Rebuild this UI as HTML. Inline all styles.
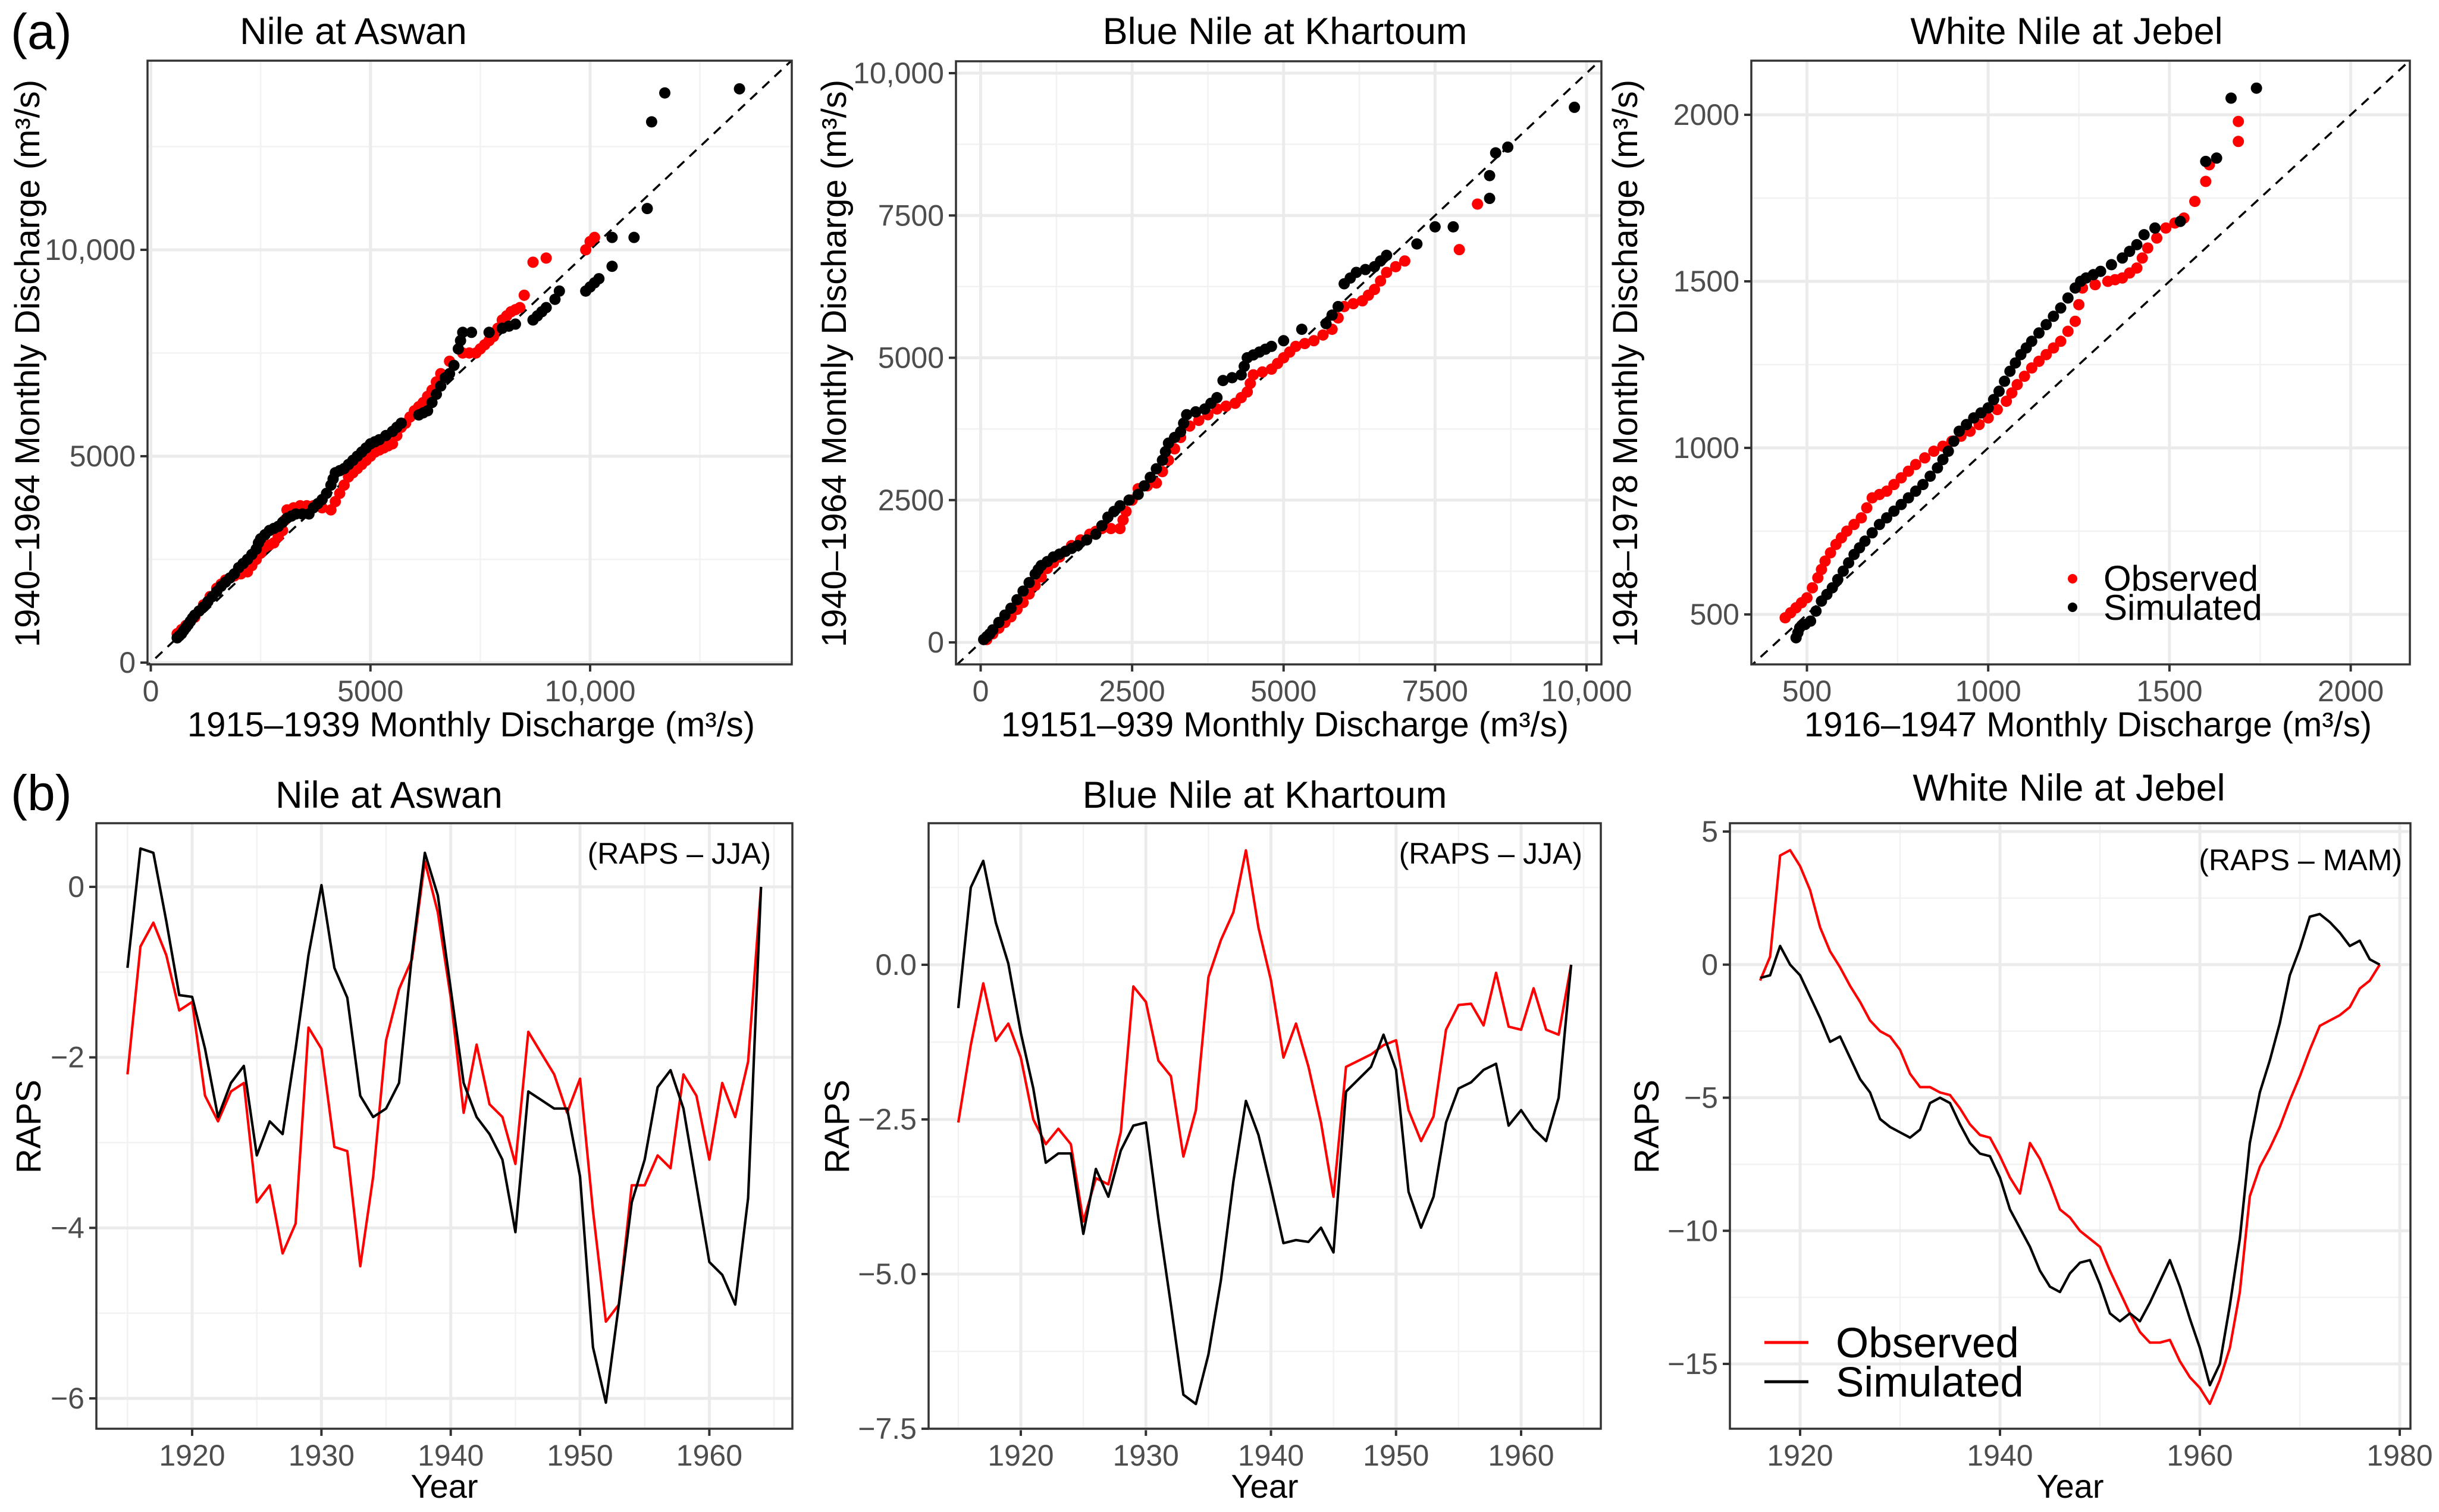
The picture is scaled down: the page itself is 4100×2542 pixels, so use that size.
<!DOCTYPE html>
<html><head><meta charset="utf-8"><style>
html,body{margin:0;padding:0;background:#fff;}
svg{display:block;font-family:"Liberation Sans",Arial,sans-serif;}
</style></head><body>
<svg id="fig" width="4100" height="2542" viewBox="0 0 4100 2542" xmlns="http://www.w3.org/2000/svg">
<text x="18" y="82" font-size="84">(a)</text>
<text x="18" y="1362" font-size="84">(b)</text>
</svg>
<script>
// ---------- Panel data ----------
const aswanSimQQ = [[0.6,0.6],[0.65,0.65],[0.7,0.7],[0.75,0.78],[0.8,0.85],[0.85,0.92],[0.9,1.0],[0.95,1.08],[1.0,1.15],[1.1,1.25],[1.2,1.35],[1.3,1.48],[1.4,1.6],[1.5,1.72],[1.6,1.85],[1.7,1.95],[1.8,2.05],[1.9,2.15],[2.0,2.3],[2.1,2.4],[2.2,2.5],[2.3,2.62],[2.4,2.75],[2.45,2.9],[2.5,3.0],[2.6,3.1],[2.7,3.2],[2.8,3.25],[2.9,3.3],[3.0,3.4],[3.1,3.5],[3.2,3.55],[3.3,3.6],[3.45,3.6],[3.6,3.6],[3.7,3.75],[3.8,3.85],[3.9,3.95],[4.0,4.1],[4.1,4.3],[4.15,4.45],[4.2,4.6],[4.3,4.65],[4.4,4.7],[4.5,4.8],[4.6,4.9],[4.7,5.0],[4.8,5.1],[4.9,5.2],[5.0,5.3],[5.1,5.35],[5.2,5.4],[5.35,5.5],[5.5,5.6],[5.6,5.7],[5.7,5.8],[6.1,6.0],[6.2,6.05],[6.3,6.1],[6.4,6.3],[6.5,6.5],[6.6,6.7],[6.7,6.9],[6.8,7.0],[6.9,7.2],[7.0,7.6],[7.05,7.8],[7.1,8.0],[7.3,8.0],[7.7,8.0],[8.0,8.1],[8.15,8.15],[8.3,8.2],[8.7,8.3],[8.8,8.4],[8.9,8.5],[9.0,8.6],[9.2,8.8],[9.3,9.0],[9.9,9.0],[10.0,9.1],[10.1,9.2],[10.2,9.3],[10.5,9.6],[10.5,10.3],[11.0,10.3],[11.3,11.0],[11.4,13.1],[11.7,13.8],[13.4,13.9]];
const aswanObsQQ = [[0.6,0.7],[0.7,0.8],[0.8,0.9],[0.9,1.0],[1.0,1.1],[1.1,1.25],[1.2,1.4],[1.35,1.6],[1.5,1.8],[1.6,1.9],[1.7,2.0],[1.8,2.05],[1.9,2.1],[2.05,2.15],[2.2,2.2],[2.3,2.35],[2.4,2.5],[2.5,2.65],[2.6,2.8],[2.7,2.85],[2.8,2.9],[2.9,3.05],[3.0,3.2],[3.05,3.45],[3.1,3.7],[3.25,3.75],[3.4,3.8],[3.55,3.8],[3.7,3.8],[3.9,3.75],[4.1,3.7],[4.2,3.9],[4.3,4.1],[4.4,4.3],[4.5,4.5],[4.6,4.6],[4.7,4.7],[4.8,4.8],[4.9,4.9],[5.0,5.0],[5.1,5.1],[5.2,5.15],[5.3,5.2],[5.4,5.25],[5.5,5.3],[5.6,5.5],[5.7,5.7],[5.8,5.8],[5.9,5.95],[6.0,6.1],[6.1,6.2],[6.2,6.3],[6.3,6.45],[6.4,6.6],[6.5,6.8],[6.6,7.0],[6.8,7.3],[7.1,7.5],[7.25,7.5],[7.4,7.5],[7.5,7.6],[7.6,7.7],[7.7,7.8],[7.8,7.9],[7.9,8.1],[8.0,8.3],[8.1,8.4],[8.2,8.5],[8.3,8.55],[8.4,8.6],[8.5,8.9],[8.7,9.7],[9.0,9.8],[9.9,10.0],[10.0,10.2],[10.1,10.3]];
const blueSimQQ = [[0.05,0.05],[0.1,0.1],[0.15,0.15],[0.2,0.22],[0.3,0.35],[0.4,0.48],[0.5,0.6],[0.6,0.75],[0.7,0.9],[0.8,1.05],[0.9,1.2],[0.95,1.28],[1.0,1.35],[1.1,1.42],[1.2,1.5],[1.3,1.55],[1.4,1.6],[1.5,1.65],[1.6,1.7],[1.75,1.8],[1.9,1.9],[2.0,2.05],[2.1,2.2],[2.2,2.3],[2.3,2.4],[2.45,2.5],[2.6,2.6],[2.7,2.75],[2.8,2.9],[2.9,3.05],[3.0,3.2],[3.05,3.35],[3.1,3.5],[3.2,3.6],[3.3,3.7],[3.35,3.85],[3.4,4.0],[3.55,4.05],[3.7,4.1],[3.8,4.2],[3.9,4.3],[4.0,4.6],[4.15,4.65],[4.3,4.7],[4.35,4.85],[4.4,5.0],[4.5,5.05],[4.6,5.1],[4.7,5.15],[4.8,5.2],[5.0,5.3],[5.3,5.5],[5.7,5.6],[5.8,5.75],[5.9,5.9],[6.0,6.3],[6.1,6.4],[6.2,6.5],[6.35,6.55],[6.5,6.6],[6.6,6.7],[6.7,6.8],[7.2,7.0],[7.5,7.3],[7.8,7.3],[8.4,7.8],[8.4,8.2],[8.5,8.6],[8.7,8.7],[9.8,9.4]];
const blueObsQQ = [[0.1,0.05],[0.2,0.15],[0.3,0.25],[0.4,0.35],[0.5,0.45],[0.6,0.58],[0.7,0.7],[0.8,0.85],[0.9,1.0],[1.0,1.15],[1.1,1.3],[1.2,1.4],[1.3,1.5],[1.4,1.6],[1.5,1.7],[1.65,1.8],[1.8,1.9],[1.9,1.95],[2.0,2.0],[2.15,2.0],[2.3,2.0],[2.35,2.15],[2.4,2.3],[2.5,2.5],[2.6,2.7],[2.75,2.75],[2.9,2.8],[3.0,3.0],[3.1,3.2],[3.2,3.4],[3.3,3.6],[3.45,3.8],[3.6,3.9],[3.75,4.0],[3.9,4.1],[4.05,4.15],[4.2,4.2],[4.3,4.3],[4.4,4.4],[4.45,4.55],[4.5,4.7],[4.65,4.75],[4.8,4.8],[4.9,4.9],[5.0,5.0],[5.1,5.1],[5.2,5.2],[5.35,5.25],[5.5,5.3],[5.65,5.4],[5.8,5.5],[5.9,5.7],[6.0,5.9],[6.15,5.95],[6.3,6.0],[6.4,6.1],[6.5,6.2],[6.6,6.35],[6.7,6.5],[6.85,6.6],[7.0,6.7],[7.9,6.9],[8.2,7.7]];
const whiteSimQQ = [[470,430],[475,445],[480,460],[495,470],[510,480],[525,510],[540,540],[555,560],[570,580],[585,605],[600,630],[615,655],[630,680],[645,700],[660,720],[680,745],[700,770],[720,790],[740,810],[760,830],[780,850],[800,870],[820,890],[840,915],[860,940],[875,965],[890,990],[905,1020],[920,1050],[940,1070],[960,1090],[980,1105],[1000,1120],[1015,1145],[1030,1170],[1045,1200],[1060,1230],[1075,1255],[1090,1280],[1105,1300],[1120,1320],[1140,1345],[1160,1370],[1180,1395],[1200,1420],[1220,1450],[1240,1480],[1255,1500],[1270,1510],[1290,1520],[1310,1530],[1340,1550],[1370,1570],[1390,1590],[1410,1610],[1430,1640],[1460,1660],[1530,1680],[1600,1860],[1630,1870],[1670,2050],[1740,2080]];
const whiteObsQQ = [[440,490],[455,505],[470,520],[485,535],[500,550],[515,580],[530,610],[540,635],[550,660],[565,685],[580,710],[595,730],[610,750],[630,770],[650,790],[665,820],[680,850],[700,860],[720,870],[740,890],[760,910],[780,930],[800,950],[825,970],[850,990],[875,1005],[900,1020],[925,1035],[950,1050],[975,1070],[1000,1090],[1025,1115],[1050,1140],[1065,1165],[1080,1190],[1100,1215],[1120,1240],[1140,1260],[1160,1280],[1180,1300],[1200,1320],[1220,1350],[1240,1380],[1250,1430],[1260,1480],[1295,1490],[1330,1500],[1350,1505],[1370,1510],[1390,1525],[1410,1540],[1425,1570],[1440,1600],[1465,1630],[1490,1660],[1515,1675],[1540,1690],[1570,1740],[1600,1800],[1610,1850],[1690,1920],[1690,1980]];

const yearsA = [1915,1916,1917,1918,1919,1920,1921,1922,1923,1924,1925,1926,1927,1928,1929,1930,1931,1932,1933,1934,1935,1936,1937,1938,1939,1940,1941,1942,1943,1944,1945,1946,1947,1948,1949,1950,1951,1952,1953,1954,1955,1956,1957,1958,1959,1960,1961,1962,1963,1964];
const aswanSimRaps = [-0.95,0.45,0.4,-0.4,-1.27,-1.29,-1.9,-2.7,-2.3,-2.1,-3.15,-2.75,-2.9,-1.9,-0.8,0.02,-0.95,-1.3,-2.45,-2.7,-2.6,-2.3,-0.8,0.4,-0.1,-1.2,-2.3,-2.7,-2.9,-3.2,-4.05,-2.4,-2.5,-2.6,-2.6,-3.4,-5.4,-6.05,-4.9,-3.7,-3.2,-2.35,-2.15,-2.6,-3.5,-4.4,-4.55,-4.9,-3.65,0];
const aswanObsRaps = [-2.2,-0.7,-0.42,-0.8,-1.45,-1.35,-2.45,-2.75,-2.4,-2.3,-3.7,-3.5,-4.3,-3.95,-1.65,-1.9,-3.05,-3.1,-4.45,-3.4,-1.8,-1.2,-0.85,0.3,-0.3,-1.3,-2.65,-1.85,-2.55,-2.7,-3.25,-1.7,-1.95,-2.2,-2.65,-2.25,-3.8,-5.1,-4.9,-3.5,-3.5,-3.15,-3.3,-2.2,-2.45,-3.2,-2.3,-2.7,-2.05,0];
const blueSimRaps = [-0.7,1.25,1.68,0.68,0.02,-1.1,-2.0,-3.2,-3.05,-3.05,-4.35,-3.3,-3.75,-3.0,-2.6,-2.55,-4.1,-5.5,-6.95,-7.1,-6.3,-5.1,-3.5,-2.2,-2.75,-3.6,-4.5,-4.45,-4.48,-4.25,-4.65,-2.05,-1.85,-1.65,-1.13,-1.7,-3.67,-4.25,-3.75,-2.55,-2.0,-1.9,-1.7,-1.6,-2.6,-2.35,-2.65,-2.85,-2.15,0];
const blueObsRaps = [-2.55,-1.3,-0.3,-1.23,-0.95,-1.5,-2.5,-2.9,-2.65,-2.9,-4.15,-3.45,-3.55,-2.7,-0.35,-0.6,-1.55,-1.8,-3.1,-2.35,-0.2,0.4,0.85,1.85,0.6,-0.25,-1.5,-0.95,-1.65,-2.55,-3.75,-1.65,-1.55,-1.45,-1.3,-1.22,-2.35,-2.85,-2.45,-1.05,-0.65,-0.63,-0.98,-0.13,-1.0,-1.05,-0.38,-1.05,-1.13,0];
const yearsW = [1916,1917,1918,1919,1920,1921,1922,1923,1924,1925,1926,1927,1928,1929,1930,1931,1932,1933,1934,1935,1936,1937,1938,1939,1940,1941,1942,1943,1944,1945,1946,1947,1948,1949,1950,1951,1952,1953,1954,1955,1956,1957,1958,1959,1960,1961,1962,1963,1964,1965,1966,1967,1968,1969,1970,1971,1972,1973,1974,1975,1976,1977,1978];
const whiteObsRaps = [-0.6,0.3,4.1,4.3,3.7,2.8,1.4,0.5,-0.1,-0.8,-1.4,-2.1,-2.5,-2.7,-3.2,-4.1,-4.6,-4.6,-4.8,-4.9,-5.4,-6.0,-6.4,-6.5,-7.2,-8.0,-8.6,-6.7,-7.3,-8.2,-9.2,-9.5,-10.0,-10.3,-10.6,-11.5,-12.3,-13.1,-13.8,-14.2,-14.2,-14.1,-14.9,-15.5,-15.9,-16.5,-15.6,-14.4,-12.3,-8.7,-7.6,-6.9,-6.1,-5.1,-4.2,-3.2,-2.3,-2.1,-1.9,-1.6,-0.9,-0.6,0];
const whiteSimRaps = [-0.5,-0.4,0.7,0.0,-0.4,-1.2,-2.0,-2.9,-2.7,-3.5,-4.3,-4.8,-5.8,-6.1,-6.3,-6.5,-6.2,-5.2,-5.0,-5.2,-6.0,-6.7,-7.1,-7.2,-8.0,-9.2,-9.9,-10.6,-11.5,-12.1,-12.3,-11.6,-11.2,-11.1,-12.0,-13.1,-13.4,-13.1,-13.4,-12.7,-11.9,-11.1,-12.1,-13.3,-14.4,-15.8,-15.0,-12.8,-10.3,-6.7,-4.8,-3.6,-2.2,-0.4,0.6,1.8,1.9,1.6,1.2,0.7,0.9,0.2,0];

const qqTicksA = [0,5000,10000]; const qqTickLabA = ["0","5000","10,000"];
const qqTicksB = [0,2500,5000,7500,10000]; const qqTickLabB = ["0","2500","5000","7500","10,000"];
const qqTicksW = [500,1000,1500,2000]; const qqTickLabW = ["500","1000","1500","2000"];
const rapsTicksA = [0,-2,-4,-6]; const rapsTickLabA = ["0","\u22122","\u22124","\u22126"];
const rapsTicksB = [0,-2.5,-5,-7.5]; const rapsTickLabB = ["0.0","\u22122.5","\u22125.0","\u22127.5"];
const rapsTicksW = [5,0,-5,-10,-15]; const rapsTickLabW = ["5","0","\u22125","\u221210","\u221215"];
const yearTicksA = [1920,1930,1940,1950,1960];
const yearTicksW = [1920,1940,1960,1980];

// ---------- rendering ----------
const NS = "http://www.w3.org/2000/svg";
const svg = document.getElementById('fig');
function mk(tag, attrs, parent){
  const e = document.createElementNS(NS, tag);
  for (const k in attrs) e.setAttribute(k, attrs[k]);
  (parent||svg).appendChild(e);
  return e;
}
function lin(d0,d1,r0,r1){ return v => r0 + (v-d0)/(d1-d0)*(r1-r0); }

function panel(cfg){
  const g = mk('g', {});
  
  
  const sx = cfg.sx, sy = cfg.sy, b = cfg.box;
  cfg.xMinor.forEach(v => { const l = mk('line',{x1:sx(v),x2:sx(v),y1:b.y0,y2:b.y1,stroke:'#f2f2f2','stroke-width':2.5},g);
      });
  cfg.yMinor.forEach(v => { const l = mk('line',{x1:b.x0,x2:b.x1,y1:sy(v),y2:sy(v),stroke:'#f2f2f2','stroke-width':2.5},g);
      });
  cfg.xTicks.forEach((v,i) => {
    const l = mk('line',{x1:sx(v),x2:sx(v),y1:b.y0,y2:b.y1,stroke:'#ebebeb','stroke-width':5},g);
     
    const t = mk('line',{x1:sx(v),x2:sx(v),y1:b.y1,y2:b.y1+12,stroke:'#333','stroke-width':4},g);
     
    const tx = mk('text',{x:sx(v),y:b.y1+62,'font-size':50,fill:'#4d4d4d','text-anchor':'middle'},g);
    tx.textContent = cfg.xLab[i];
     
  });
  cfg.yTicks.forEach((v,i) => {
    const l = mk('line',{x1:b.x0,x2:b.x1,y1:sy(v),y2:sy(v),stroke:'#ebebeb','stroke-width':5},g);
     
    const t = mk('line',{x1:b.x0-12,x2:b.x0,y1:sy(v),y2:sy(v),stroke:'#333','stroke-width':4},g);
     
    const tx = mk('text',{x:b.x0-20,y:sy(v)+17,'font-size':50,fill:'#4d4d4d','text-anchor':'end'},g);
    tx.textContent = cfg.yLab[i];
     
  });
  const cid = 'clip-' + cfg.name;
  const cp = mk('clipPath',{id:cid},g);
  mk('rect',{x:b.x0,y:b.y0,width:b.x1-b.x0,height:b.y1-b.y0},cp);
  const pg = mk('g',{'clip-path':'url(#'+cid+')'},g);
  if (cfg.diag){
    const d0 = cfg.diag[0], d1 = cfg.diag[1];
    const dl = mk('line',{x1:sx(d0),y1:sy(d0),x2:sx(d1),y2:sy(d1),stroke:'#000','stroke-width':3.5,'stroke-dasharray':'16,12'},pg);
     
  }
  if (cfg.pts){
    cfg.pts.forEach(s => {
      s.data.forEach(p => {
        const c = mk('circle',{cx:sx(p[0]*s.k),cy:sy(p[1]*s.k),r:9.5,fill:s.color},pg);
        
        
      });
    });
  }
  if (cfg.lines){
    cfg.lines.forEach(s => {
      const d = s.years.map((y,i) => (i?'L':'M') + sx(y).toFixed(1) + ' ' + sy(s.vals[i]).toFixed(1)).join(' ');
      const p = mk('path',{d:d,fill:'none',stroke:s.color,'stroke-width':4.2,'stroke-linejoin':'round'},pg);
      
      
    });
  }
  const br = mk('rect',{x:b.x0,y:b.y0,width:b.x1-b.x0,height:b.y1-b.y0,fill:'none',stroke:'#333','stroke-width':3.5},g);
   
  const ti = mk('text',{x:cfg.title[1],y:cfg.title[2],'font-size':63,'text-anchor':'middle',fill:'#000'},g);
  ti.textContent = cfg.title[0];
   
  const xt = mk('text',{x:cfg.xt[1],y:cfg.xt[2],'font-size':cfg.xt[3],'text-anchor':'middle'},g);
  xt.textContent = cfg.xt[0];
   
  const yt = mk('text',{x:0,y:0,'font-size':cfg.yt[3],'text-anchor':'middle',transform:'translate('+cfg.yt[1]+','+cfg.yt[2]+') rotate(-90)'},g);
  yt.textContent = cfg.yt[0];
   
  if (cfg.note){
    const n = mk('text',{x:cfg.note[1],y:cfg.note[2],'font-size':50,'text-anchor':'end'},g);
    n.textContent = cfg.note[0];
     
  }
  return g;
}

const Q = 'Monthly Discharge (m\u00b3/s)';
let b = {x0:248,x1:1331,y0:102,y1:1117};
panel({name:'qq-nile-aswan', box:b, sx:lin(0,10000,253.5,992), sy:lin(0,10000,1114,420),
  xTicks:qqTicksA, xLab:qqTickLabA, yTicks:qqTicksA, yLab:qqTickLabA,
  xMinor:[2500,7500,12500], yMinor:[2500,7500,12500], diag:[-1000,16000],
  pts:[{data:aswanObsQQ,k:1000,color:'#ff0000',label:'observed'},{data:aswanSimQQ,k:1000,color:'#000',label:'simulated'}],
  title:['Nile at Aswan',594,74], xt:['1915\u20131939 '+Q,792,1238,58], yt:['1940\u20131964 '+Q,66,611,58]});
b = {x0:1607,x1:2692,y0:103,y1:1117};
panel({name:'qq-blue-nile-khartoum', box:b, sx:lin(0,10000,1648.5,2667), sy:lin(0,10000,1080,123),
  xTicks:qqTicksB, xLab:qqTickLabB, yTicks:qqTicksB, yLab:qqTickLabB,
  xMinor:[1250,3750,6250,8750], yMinor:[1250,3750,6250,8750], diag:[-1000,12000],
  pts:[{data:blueObsQQ,k:1000,color:'#ff0000',label:'observed'},{data:blueSimQQ,k:1000,color:'#000',label:'simulated'}],
  title:['Blue Nile at Khartoum',2160,74], xt:['19151\u2013939 '+Q,2160,1238,58], yt:['1940\u20131964 '+Q,1422,611,58]});
b = {x0:2944,x1:4051,y0:102,y1:1117};
const g3 = panel({name:'qq-white-nile-jebel', box:b, sx:lin(500,2000,3037.5,3951.6), sy:lin(500,2000,1033,193),
  xTicks:qqTicksW, xLab:qqTickLabW, yTicks:qqTicksW, yLab:qqTickLabW,
  xMinor:[750,1250,1750], yMinor:[750,1250,1750], diag:[0,2500],
  pts:[{data:whiteObsQQ,k:1,color:'#ff0000',label:'observed'},{data:whiteSimQQ,k:1,color:'#000',label:'simulated'}],
  title:['White Nile at Jebel',3474,74], xt:['1916\u20131947 '+Q,3510,1238,58], yt:['1948\u20131978 '+Q,2752,611,58]});
const lg1 = mk('g',{},g3);
 
const le1 = mk('circle',{cx:3484,cy:973,r:8,fill:'#ff0000'},lg1);
 
const le2 = mk('circle',{cx:3484,cy:1021,r:8,fill:'#000'},lg1);
 
const lt1 = mk('text',{x:3536,y:993,'font-size':60},lg1); lt1.textContent='Observed';
 
const lt2 = mk('text',{x:3536,y:1042,'font-size':60},lg1); lt2.textContent='Simulated';



b = {x0:162,x1:1332,y0:1384,y1:2402};
panel({name:'raps-nile-aswan', box:b, sx:lin(1920,1960,323,1192.4), sy:lin(0,-6,1491,2351),
  xTicks:yearTicksA, xLab:yearTicksA.map(String), yTicks:rapsTicksA, yLab:rapsTickLabA,
  xMinor:[1915,1925,1935,1945,1955,1965], yMinor:[-1,-3,-5],
  lines:[{years:yearsA,vals:aswanObsRaps,color:'#ff0000',label:'observed'},{years:yearsA,vals:aswanSimRaps,color:'#000',label:'simulated'}],
  title:['Nile at Aswan',654,1358], xt:['Year',747,2518,56], yt:['RAPS',68,1894,58], note:['(RAPS \u2013 JJA)',1296,1452]});
b = {x0:1561,x1:2691,y0:1384,y1:2402};
panel({name:'raps-blue-nile-khartoum', box:b, sx:lin(1920,1960,1716,2557), sy:lin(0,-7.5,1622,2402),
  xTicks:yearTicksA, xLab:yearTicksA.map(String), yTicks:rapsTicksB, yLab:rapsTickLabB,
  xMinor:[1915,1925,1935,1945,1955,1965], yMinor:[1.25,-1.25,-3.75,-6.25],
  lines:[{years:yearsA,vals:blueObsRaps,color:'#ff0000',label:'observed'},{years:yearsA,vals:blueSimRaps,color:'#000',label:'simulated'}],
  title:['Blue Nile at Khartoum',2126,1358], xt:['Year',2126,2518,56], yt:['RAPS',1427,1894,58], note:['(RAPS \u2013 JJA)',2660,1452]});
b = {x0:2908,x1:4052,y0:1384,y1:2402};
const g6 = panel({name:'raps-white-nile-jebel', box:b, sx:lin(1920,1980,3026,4034), sy:lin(5,-15,1398,2293),
  xTicks:yearTicksW, xLab:yearTicksW.map(String), yTicks:rapsTicksW, yLab:rapsTickLabW,
  xMinor:[1930,1950,1970], yMinor:[2.5,-2.5,-7.5,-12.5],
  lines:[{years:yearsW,vals:whiteObsRaps,color:'#ff0000',label:'observed'},{years:yearsW,vals:whiteSimRaps,color:'#000',label:'simulated'}],
  title:['White Nile at Jebel',3478,1346], xt:['Year',3480,2518,56], yt:['RAPS',2788,1894,58], note:['(RAPS \u2013 MAM)',4038,1463]});
const lg2 = mk('g',{},g6);
 
const ll1 = mk('line',{x1:2966,x2:3040,y1:2257,y2:2257,stroke:'#ff0000','stroke-width':5},lg2);
 
const ll2 = mk('line',{x1:2966,x2:3040,y1:2323,y2:2323,stroke:'#000','stroke-width':5},lg2);
 
const lt3 = mk('text',{x:3086,y:2282,'font-size':71},lg2); lt3.textContent='Observed';
 
const lt4 = mk('text',{x:3086,y:2348,'font-size':71},lg2); lt4.textContent='Simulated';
 
</script>
</body></html>
